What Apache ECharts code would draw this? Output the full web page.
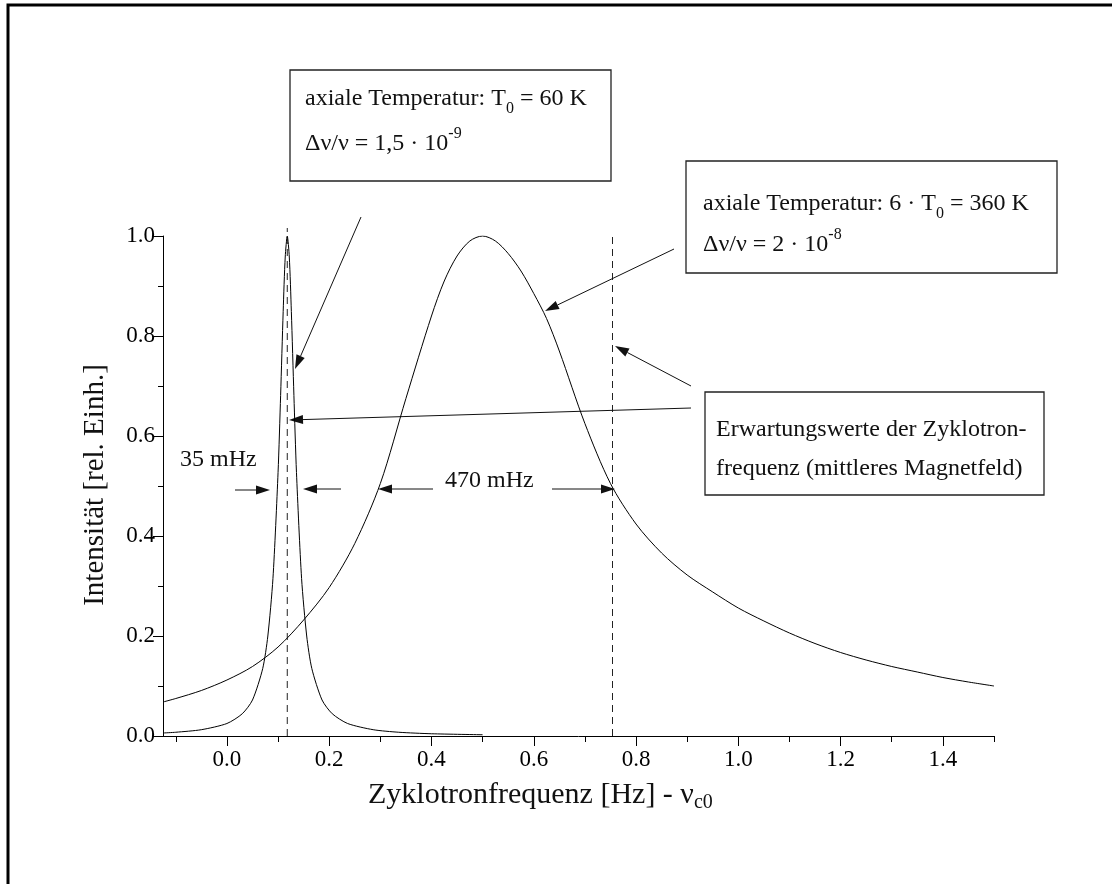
<!DOCTYPE html>
<html><head><meta charset="utf-8">
<script src="https://cdn.jsdelivr.net/npm/echarts@6/dist/echarts.min.js"></script>
<style>html,body{margin:0;padding:0;background:#fff}#c{width:1112px;height:884px}</style>
</head><body><div id="c"></div>
<script>
// ---- data ----
const narrowX = [-0.125,-0.1,-0.05,0,0.03,0.05,0.07,0.08,0.09,0.1,0.105,0.11,0.114,0.118,0.122,0.126,0.131,0.136,0.146,0.156,0.166,0.186,0.206,0.236,0.286,0.336,0.4,0.5];
const narrowY = [0.006,0.0075,0.0126,0.025,0.0445,0.072,0.135,0.2,0.315,0.527,0.681,0.849,0.958,1.0,0.958,0.849,0.681,0.527,0.315,0.2,0.135,0.072,0.0445,0.025,0.0126,0.0075,0.0045,0.0025];
const wideX = [-0.125,-0.1,-0.05,0,0.05,0.1,0.15,0.2,0.25,0.3,0.35,0.4,0.425,0.45,0.475,0.5,0.525,0.55,0.575,0.6,0.625,0.65,0.7,0.75,0.8,0.85,0.9,0.95,1.0,1.05,1.1,1.15,1.2,1.25,1.3,1.35,1.4,1.45,1.5];
const wideY = [0.068,0.075,0.091,0.112,0.139,0.178,0.232,0.297,0.385,0.505,0.675,0.84,0.91,0.96,0.99,1.0,0.99,0.965,0.93,0.885,0.835,0.77,0.625,0.505,0.424,0.366,0.322,0.288,0.256,0.23,0.206,0.185,0.167,0.152,0.139,0.128,0.117,0.108,0.1];
const expectX = [0.118, 0.754];          // dashed lines (Erwartungswerte)
const expectTop = [1.016, 1.008];
const xMajor = [0.0,0.2,0.4,0.6,0.8,1.0,1.2,1.4];
const xMinor = [-0.1,0.1,0.3,0.5,0.7,0.9,1.1,1.3,1.5];
const X_MIN = -0.125, X_MAX = 1.5;

const FONT = '"Liberation Serif","Times New Roman",serif';
const chart = echarts.init(document.getElementById('c'), null, {renderer:'canvas'});
chart.setOption({
  backgroundColor:'#fff',
  animation:false,
  grid:{left:163, right:118, top:236, bottom:148},
  xAxis:[
    {type:'value', min:X_MIN, max:X_MAX, axisLine:{onZero:false, lineStyle:{color:'#000', width:1}}, splitLine:{show:false},
     axisTick:{customValues:xMajor, length:10, lineStyle:{color:'#000'}},
     axisLabel:{customValues:xMajor, formatter:v=>v.toFixed(1), color:'#000', fontFamily:FONT, fontSize:23, margin:12}},
    {type:'value', min:X_MIN, max:X_MAX, position:'bottom', axisLine:{show:false, onZero:false}, splitLine:{show:false},
     axisTick:{customValues:xMinor, length:6, lineStyle:{color:'#000'}}, axisLabel:{show:false}}
  ],
  yAxis:{type:'value', min:0, max:1, interval:0.2, axisLine:{show:true, onZero:false, lineStyle:{color:'#000'}}, splitLine:{show:false},
    axisTick:{show:true, length:10, lineStyle:{color:'#000'}},
    minorTick:{show:true, splitNumber:2, length:5, lineStyle:{color:'#000'}},
    axisLabel:{formatter:v=>v.toFixed(1), color:'#000', fontFamily:FONT, fontSize:23, margin:8}},
  series:[
    {type:'line', data:narrowX.map((x,i)=>[x,narrowY[i]]), showSymbol:false, smooth:0.25,
     lineStyle:{color:'#000', width:1}},
    {type:'line', data:wideX.map((x,i)=>[x,wideY[i]]), showSymbol:false, smooth:0.3,
     lineStyle:{color:'#000', width:1}}
  ]
});

function arrow(x1,y1,x2,y2){
  const a = Math.atan2(y2-y1,x2-x1), L=14, W=4.5;
  const bx = x2 - L*Math.cos(a), by = y2 - L*Math.sin(a);
  const px = -Math.sin(a)*W, py = Math.cos(a)*W;
  return [
    {type:'line', shape:{x1:x1,y1:y1,x2:bx,y2:by}, style:{stroke:'#111', lineWidth:1}},
    {type:'polygon', shape:{points:[[x2,y2],[bx+px,by+py],[bx-px,by-py]]}, style:{fill:'#111'}}
  ];
}
function txt(x,y,text,size,subSize){
  const s = subSize||16;
  return {type:'text', x:x, y:y, style:{text:text, fill:'#111', fontFamily:FONT, fontSize:size||24,
    lineHeight:36, verticalAlign:'middle', align:'left',
    rich:{sub:{fontFamily:FONT, fontSize:s, lineHeight:s, verticalAlign:'bottom', fill:'#111'},
          sup:{fontFamily:FONT, fontSize:s, lineHeight:s, verticalAlign:'top', fill:'#111'}}}};
}
function box(x1,y1,x2,y2){
  return {type:'rect', shape:{x:x1,y:y1,width:x2-x1,height:y2-y1}, style:{fill:null, stroke:'#222', lineWidth:1.3}};
}

const g = [];
// outer frame (top and left visible)
g.push({type:'rect', shape:{x:8,y:5,width:1200,height:1000}, style:{fill:null, stroke:'#000', lineWidth:3}});
// dashed lines at expectation values
expectX.forEach((x,i)=>{
  const p0 = chart.convertToPixel({xAxisIndex:0,yAxisIndex:0},[x,0]);
  const p1 = chart.convertToPixel({xAxisIndex:0,yAxisIndex:0},[x,expectTop[i]]);
  g.push({type:'line', shape:{x1:p0[0],y1:p0[1],x2:p1[0],y2:p1[1]}, style:{stroke:'#222', lineWidth:1, lineDash:[7,5]}});
});
// boxes
g.push(box(290,70,611,181));
g.push(box(686,161,1057,273));
g.push(box(705,392,1044,495));
g.push(txt(305,98.5,'axiale Temperatur: T{sub|0} = 60 K'));
g.push(txt(305,143.5,'Δν/ν = 1,5 · 10{sup|-9}'));
g.push(txt(703,203.5,'axiale Temperatur: 6 · T{sub|0} = 360 K'));
g.push(txt(703,245,'Δν/ν = 2 · 10{sup|-8}'));
g.push(txt(716,430,'Erwartungswerte der Zyklotron-'));
g.push(txt(716,469,'frequenz (mittleres Magnetfeld)'));
// arrows
arrow(361,217,295,369).forEach(e=>g.push(e));
arrow(674,249,545,311).forEach(e=>g.push(e));
arrow(691,386,615,346).forEach(e=>g.push(e));
arrow(691,408,289,420).forEach(e=>g.push(e));
arrow(235,490,270,490).forEach(e=>g.push(e));
arrow(341,489,303,489).forEach(e=>g.push(e));
arrow(433,489,378,489).forEach(e=>g.push(e));
arrow(552,489,615,489).forEach(e=>g.push(e));
g.push(txt(180,460,'35 mHz'));
g.push(txt(445,481,'470 mHz'));
// axis titles
g.push(txt(368,795,'Zyklotronfrequenz [Hz] - ν{sub|c0}',30,20));
g.push({type:'text', x:95, y:485, rotation:Math.PI/2,
  style:{text:'Intensität [rel. Einh.]', fill:'#111', fontFamily:FONT, fontSize:29, align:'center', verticalAlign:'middle'}});
chart.setOption({graphic:g});
</script></body></html>
